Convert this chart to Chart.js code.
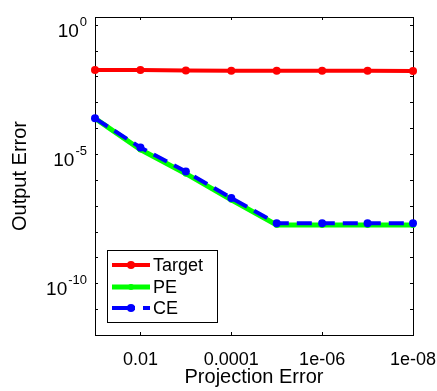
<!DOCTYPE html>
<html lang="en">
<head>
  <meta charset="UTF-8">
  <title>Output Error vs Projection Error</title>
  <script src="https://cdn.jsdelivr.net/npm/chart.js@4/dist/chart.umd.min.js"></script>
  <style>
    html, body { margin: 0; padding: 0; background: #fff; }
    #wrap { width: 437px; height: 391px; }
  </style>
</head>
<body>
  <div id="wrap"><canvas id="myChart" width="437" height="391"></canvas></div>
  <script>
    // data
    const projErr = [1e-1, 1e-2, 1e-3, 1e-4, 1e-5, 1e-6, 1e-7, 1e-8];
    const targetErr = [0.018, 0.0178, 0.0172, 0.0168, 0.0165, 0.0165, 0.0165, 0.0162];
    const peErr = [2.4e-4, 1.5e-5, 1.74e-6, 1.7e-7, 1.8e-8, 1.8e-8, 1.8e-8, 1.8e-8];
    const ceErr = [2.4e-4, 1.8e-5, 2.1e-6, 2.0e-7, 2.1e-8, 2.1e-8, 2.1e-8, 2.1e-8];
    const xTicks = [1e-2, 1e-4, 1e-6, 1e-8];
    const xTickLabels = ['0.01', '0.0001', '1e-06', '1e-08'];
    const yTicks = [1e-12, 1e-11, 1e-10, 1e-9, 1e-8, 1e-7, 1e-6, 1e-5, 1e-4, 1e-3, 1e-2, 1e-1, 1];
    const yLabelExps = [0, -5, -10];

    const FONT = 'Arial, "Liberation Sans", Helvetica, sans-serif';

    const pts = ys => projErr.map((x, i) => ({ x: x, y: ys[i] }));

    const series = [
      { label: 'Target', data: pts(targetErr), color: '#ff0000', width: 4, dash: [], legendDash: [], r: 4, order: 2 },
      { label: 'PE', data: pts(peErr), color: '#00ff00', width: 5, dash: [], legendDash: [], r: 3, order: 1 },
      { label: 'CE', data: pts(ceErr), color: '#0000ff', width: 4, dash: [15, 8], legendDash: [23, 8], r: 4, order: 0 }
    ];

    // frame, ticks and y labels (matlab style: ticks inside, box on)
    const axesPlugin = {
      id: 'axesBox',
      beforeDatasetsDraw(chart) {
        const { ctx, chartArea: a, scales } = chart;
        ctx.save();
        ctx.strokeStyle = '#000';
        ctx.lineWidth = 1;
        ctx.strokeRect(a.left + 0.5, a.top + 0.5, a.right - a.left, a.bottom - a.top);
        ctx.beginPath();
        yTicks.forEach(v => {
          const y = Math.round(scales.y.getPixelForValue(v)) + 0.5;
          ctx.moveTo(a.left, y); ctx.lineTo(a.left + 3, y);
          ctx.moveTo(a.right, y); ctx.lineTo(a.right - 3, y);
        });
        xTicks.forEach(v => {
          const x = Math.round(scales.x.getPixelForValue(v)) + 0.5;
          ctx.moveTo(x, a.bottom); ctx.lineTo(x, a.bottom - 3);
          ctx.moveTo(x, a.top); ctx.lineTo(x, a.top + 3);
        });
        ctx.stroke();
        ctx.restore();
      },
      afterDraw(chart) {
        const { ctx, chartArea: a, scales } = chart;
        ctx.save();
        ctx.fillStyle = '#000';
        ctx.textBaseline = 'alphabetic';
        // y labels 10^n
        yLabelExps.forEach(e => {
          const y = scales.y.getPixelForValue(Math.pow(10, e));
          ctx.font = '13px ' + FONT;
          const ew = ctx.measureText(String(e)).width;
          const xr = a.left - 8;
          ctx.textAlign = 'right';
          ctx.fillText(String(e), xr, y + 1);
          ctx.font = '19px ' + FONT;
          ctx.fillText('10', xr - ew - 1, y + 12);
        });

        // legend box
        const lx = 107, ly = 250, lw = 110, lh = 72;
        ctx.fillStyle = '#fff';
        ctx.fillRect(lx, ly, lw, lh);
        ctx.strokeStyle = '#000';
        ctx.lineWidth = 1;
        ctx.strokeRect(lx + 0.5, ly + 0.5, lw, lh);
        const rows = [265, 287, 308];
        series.forEach((s, i) => {
          const y = rows[i];
          ctx.save();
          ctx.strokeStyle = s.color;
          ctx.lineWidth = s.width;
          ctx.setLineDash(s.legendDash);
          ctx.beginPath();
          ctx.moveTo(112, y); ctx.lineTo(150, y);
          ctx.stroke();
          ctx.restore();
          ctx.fillStyle = s.color;
          ctx.beginPath();
          ctx.arc(131, y, s.r, 0, Math.PI * 2);
          ctx.fill();
          ctx.fillStyle = '#000';
          ctx.font = '18px ' + FONT;
          ctx.textAlign = 'left';
          ctx.textBaseline = 'middle';
          ctx.fillText(s.label, 153, y + 1);
        });
        ctx.restore();
      }
    };

    const ctx = document.getElementById('myChart').getContext('2d');
    const myChart = new Chart(ctx, {
      type: 'line',
      data: {
        datasets: series.map(s => ({
          label: s.label,
          data: s.data,
          borderColor: s.color,
          backgroundColor: s.color,
          borderWidth: s.width,
          borderDash: s.dash,
          pointRadius: s.r,
          pointBorderWidth: 0,
          pointHoverRadius: s.r,
          order: s.order,
          clip: false,
          tension: 0
        }))
      },
      options: {
        responsive: false,
        animation: false,
        events: [],
        layout: { padding: { top: 17, right: 24, bottom: 0, left: 0 } },
        plugins: { legend: { display: false }, tooltip: { enabled: false } },
        scales: {
          x: {
            type: 'logarithmic',
            reverse: true,
            min: 1e-8,
            max: 1e-1,
            afterBuildTicks: scale => { scale.ticks = xTicks.map(v => ({ value: v })); },
            afterFit: scale => { scale.height = 56; scale.paddingLeft = 0; scale.paddingRight = 0; },
            grid: { display: false },
            border: { display: false },
            ticks: {
              autoSkip: false,
              maxRotation: 0,
              padding: 6,
              color: '#000',
              font: { family: FONT, size: 18 },
              callback: (v) => xTickLabels[xTicks.indexOf(v)]
            },
            title: {
              display: true,
              text: 'Projection Error',
              color: '#000',
              font: { family: FONT, size: 20 },
              padding: { top: 0, bottom: 2 }
            }
          },
          y: {
            type: 'logarithmic',
            min: 1e-12,
            max: 2,
            afterBuildTicks: scale => { scale.ticks = yTicks.map(v => ({ value: v })); },
            afterFit: scale => { scale.width = 95; },
            grid: { display: false },
            border: { display: false },
            ticks: { display: false },
            title: {
              display: true,
              text: 'Output Error',
              color: '#000',
              font: { family: FONT, size: 20 },
              padding: { top: 8, bottom: 0 }
            }
          }
        }
      },
      plugins: [axesPlugin]
    });
  </script>
</body>
</html>
